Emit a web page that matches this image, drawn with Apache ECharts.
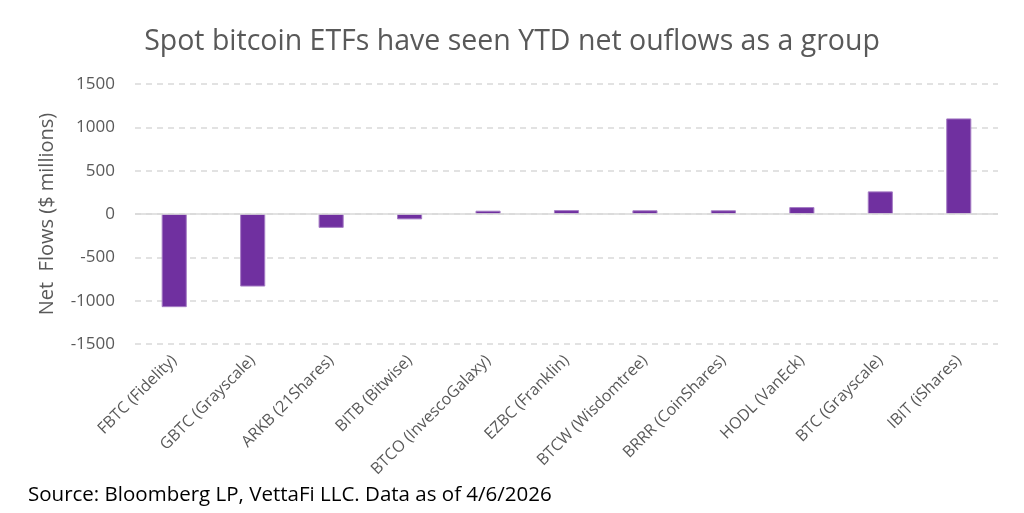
<!DOCTYPE html>
<html>
<head>
<meta charset="utf-8">
<script src="https://cdn.jsdelivr.net/npm/echarts@6/dist/echarts.min.js"></script>
<style>
  html, body { margin: 0; padding: 0; background: #fff; }
  #chart { width: 1024px; height: 513px; }
</style>
</head>
<body>
<div id="chart"></div>
<script>
  // ETF names and YTD net flows ($ millions)
  const funds = ['FBTC (Fidelity)', 'GBTC (Grayscale)', 'ARKB (21Shares)', 'BITB (Bitwise)',
    'BTCO (InvescoGalaxy)', 'EZBC (Franklin)', 'BTCW (Wisdomtree)', 'BRRR (CoinShares)',
    'HODL (VanEck)', 'BTC (Grayscale)', 'IBIT (iShares)'];
  const netFlows = [-1075, -837, -160, -62, 38, 45, 43, 43, 80, 261, 1103];

  const yMin = -1500;
  const yMax = 1500;
  const yStep = 500;

  const chart = echarts.init(document.getElementById('chart'));
  const grey = '#595959';
  const font = 'Open Sans, Noto Sans, sans-serif';

  chart.setOption({
    animation: false,
    backgroundColor: '#fff',
    title: {
      text: 'Spot bitcoin ETFs have seen YTD net ouflows as a group',
      left: 'center',
      top: 22,
      textStyle: { color: grey, fontSize: 28.5, fontWeight: 'normal', fontFamily: font }
    },
    graphic: [{
      type: 'text',
      left: 28,
      top: 485,
      style: {
        text: 'Source: Bloomberg LP, VettaFi LLC. Data as of 4/6/2026',
        fill: '#000',
        font: '20.5px ' + font
      }
    }],
    grid: { left: 135, right: 26, top: 84, bottom: 169, outerBoundsMode: 'none', containLabel: false },
    xAxis: {
      type: 'category',
      data: funds,
      axisLine: { show: false, onZero: false },
      axisTick: { show: false },
      axisLabel: {
        interval: 0,
        rotate: 45,
        margin: 14,
        color: grey,
        fontSize: 16,
        fontFamily: font
      }
    },
    yAxis: {
      type: 'value',
      min: yMin,
      max: yMax,
      interval: yStep,
      name: 'Net  Flows ($ millions)',
      nameLocation: 'middle',
      nameGap: 78,
      nameTextStyle: { color: grey, fontSize: 20, fontFamily: font },
      axisLine: { show: false },
      axisTick: { show: false },
      axisLabel: { color: grey, fontSize: 17, fontFamily: font, margin: 20, formatter: v => String(v) },
      splitLine: {
        lineStyle: { color: '#d9d9d9', type: [6, 5], width: 1.5 }
      }
    },
    series: [{
      type: 'bar',
      data: netFlows,
      barWidth: '32%',
      itemStyle: { color: '#7030A0', borderColor: '#a57cc4', borderWidth: 1 },
      markLine: {
        silent: true,
        symbol: 'none',
        label: { show: false },
        lineStyle: { color: '#d9d9d9', type: 'solid', width: 1.5 },
        data: [{ yAxis: 0 }]
      }
    }]
  });
</script>
</body>
</html>
